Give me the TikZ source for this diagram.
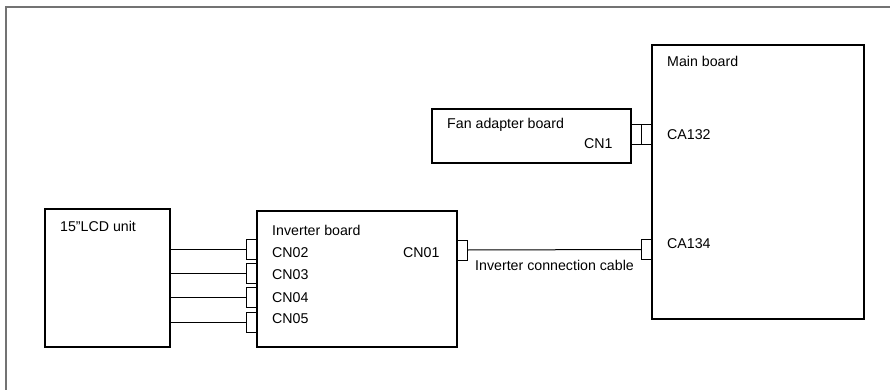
\documentclass[tikz,border=0pt]{standalone}
\usepackage{fontspec}
\setmainfont{Liberation Sans}
\begin{document}
\begin{tikzpicture}[x=1pt,y=-1pt,
  box/.style={draw,line width=1.3pt,rectangle,inner sep=0pt,outer sep=0pt,anchor=north west},
  conn/.style={draw,line width=0.9pt,rectangle,inner sep=0pt,outer sep=0pt,minimum width=10.5pt,minimum height=20pt},
  lbl/.style={anchor=base west,inner sep=0pt,font=\fontsize{14.2}{17}\selectfont},
  wire/.style={line width=1pt},
  frame/.style={draw=black!55,line width=2pt}]
\useasboundingbox (0,0) rectangle (890,390);
% outer frame (only top and left edges visible)
\coordinate (fbl) at (6,390);
\coordinate (ftl) at (6,7);
\coordinate (ftr) at (890,7);
\draw[frame] (fbl) -- (ftl) -- (ftr);
% boxes
\node[box,minimum width=125pt,minimum height=138pt] (lcd) at (45,209) {};
\node[box,minimum width=200pt,minimum height=136pt] (inv) at (257,211) {};
\node[box,minimum width=199pt,minimum height=54pt] (fan) at (432,109) {};
\node[box,minimum width=212pt,minimum height=274pt] (main) at (652,45) {};
% labels
\node[lbl] (tlcd) at (60,231) {15"LCD unit};
\node[lbl] (tinv) at (272,235) {Inverter board};
\node[lbl] (tcn02) at (272,257) {CN02};
\node[lbl] (tcn03) at (272,279) {CN03};
\node[lbl] (tcn04) at (272,302) {CN04};
\node[lbl] (tcn05) at (272,323) {CN05};
\node[lbl] (tcn01) at (403,257) {CN01};
\node[lbl] (tfan) at (447,129) {Fan adapter board};
\node[lbl] (tcn1) at (584,149) {CN1};
\node[lbl] (tmain) at (667,67) {Main board};
\node[lbl] (tca132) at (667,140) {CA132};
\node[lbl] (tca134) at (667,248) {CA134};
\node[lbl] (tcable) at (475,270) {Inverter connection cable};
% connectors on inverter left side
\node[conn] (c2) at (252,249) {};
\node[conn] (c3) at (252,273) {};
\node[conn] (c4) at (252,297) {};
\node[conn] (c5) at (252,322) {};
% inverter CN01 and main CA134
\node[conn] (c1) at (462.5,250) {};
\node[conn] (ca134) at (647,249.5) {};
% fan CN1 and main CA132
\node[conn] (cn1) at (636.5,134) {};
\node[conn] (ca132) at (647,134) {};
% wires
\draw[wire] (c2.west) -- (c2.west -| lcd.east);
\draw[wire] (c3.west) -- (c3.west -| lcd.east);
\draw[wire] (c4.west) -- (c4.west -| lcd.east);
\draw[wire] (c5.west) -- (c5.west -| lcd.east);
\draw[wire] (c1.east) -- (ca134.west);
\end{tikzpicture}
\end{document}
